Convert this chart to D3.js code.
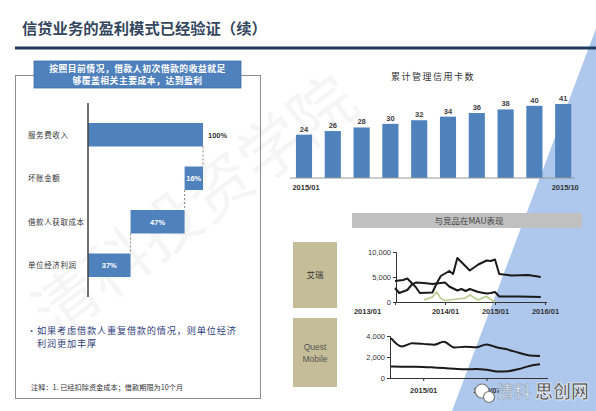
<!DOCTYPE html>
<html>
<head>
<meta charset="utf-8">
<script src="https://cdn.jsdelivr.net/npm/d3@7"></script>
<style>
  body { margin: 0; background: #fff; }
  svg { display: block; font-family: "Noto Sans CJK SC", "Noto Sans", sans-serif; }
</style>
</head>
<body>
<svg class="svg" width="596" height="411"></svg>
<script>
// ---- data ----
const title = '信贷业务的盈利模式已经验证（续）';
const headerLines = ['按照目前情况，借款人初次借款的收益就足', '够覆盖相关主要成本，达到盈利'];
const bulletLines = ['如果考虑借款人重复借款的情况，则单位经济', '利润更加丰厚'];
const footnote = '注释：1. 已经扣除资金成本；借款期限为10个月';

const steps = ['服务费收入', '坏账金额', '借款人获取成本', '单位经济利润'];
const stepValues = [100, -16, -47, 37];
const stepTotals = [true, false, false, true];

const cardTitle = '累计管理信用卡数';
const cardMonths = ['2015/01', '2015/02', '2015/03', '2015/04', '2015/05', '2015/06', '2015/07', '2015/08', '2015/09', '2015/10'];
const cardCounts = [24, 26, 28, 30, 32, 34, 36, 38, 40, 41];
const cardTicks = ['2015/01', '2015/10'];

const mauTitle = '与竞品在MAU表现';
const sources = ['艾瑞', 'Quest\nMobile'];

const iresearchA = [['2013/01', 4200], ['2013/03', 4400], ['2013/04', 4700], ['2013/06', 3000], ['2013/07', 1800],
  ['2013/10', 1900], ['2013/11', 3700], ['2013/12', 5200], ['2014/02', 6200], ['2014/03', 5600], ['2014/04', 8800],
  ['2014/07', 6300], ['2014/09', 7500], ['2014/11', 8300], ['2014/12', 8200], ['2015/01', 8500], ['2015/02', 5600],
  ['2015/05', 5300], ['2015/09', 5400], ['2015/12', 5000]];
const iresearchB = [['2013/01', 2800], ['2013/02', 1800], ['2013/04', 2400], ['2013/05', 3400], ['2013/06', 3900],
  ['2013/08', 3800], ['2013/10', 3600], ['2013/12', 3800], ['2014/01', 3900], ['2014/02', 3100], ['2014/04', 2300],
  ['2014/05', 2600], ['2014/06', 2200], ['2014/07', 2600], ['2014/09', 2000], ['2014/11', 1700], ['2014/12', 1800],
  ['2015/01', 2000], ['2015/02', 1100], ['2015/07', 1100], ['2015/12', 1000]];
const iresearchC = [['2013/08', 400], ['2013/10', 1000], ['2013/11', 2000], ['2013/12', 700], ['2014/01', 300],
  ['2014/03', 500], ['2014/05', 700], ['2014/06', 800], ['2014/07', 1400], ['2014/08', 900], ['2014/09', 400],
  ['2014/10', 800], ['2014/11', 1100], ['2014/12', 500], ['2015/01', 0]];
const iresearchTicks = ['2013/01', '2014/01', '2015/01', '2016/01'];

const questMonths = ['2014/10', '2014/11', '2014/12', '2015/01', '2015/02', '2015/03', '2015/04', '2015/05',
  '2015/06', '2015/07', '2015/08', '2015/09', '2015/10', '2015/11', '2015/12'];
const questA = [3800, 3000, 3300, 3250, 3170, 3450, 2900, 2980, 2920, 3200, 2900, 2700, 2400, 2150, 2100];
const questB = [1100, 1080, 1070, 1050, 1000, 950, 880, 830, 850, 780, 620, 650, 850, 1150, 1300];
const questTicks = ['2015/01', '2015/07'];

// ---- drawing ----
const parse = d3.timeParse('%Y/%m');
const fmtMonth = d3.timeFormat('%Y/%m');
const blue = '#4f81bd';
const svg = d3.select('.svg');

// light blue corner
svg.append('polygon')
  .attr('points', '600,18 452,411 596,411')
  .attr('fill', '#adc8ec');

// faint watermark
svg.append('text')
  .attr('transform', 'translate(55,340) rotate(-37)')
  .attr('font-size', 64)
  .attr('fill', '#000')
  .attr('opacity', 0.035)
  .text('清科投资学院');

// title + rule
svg.append('text')
  .attr('x', 22).attr('y', 34)
  .attr('font-size', 15.3).attr('font-weight', 'bold')
  .attr('fill', '#34475e')
  .text(title);
svg.append('line')
  .attr('x1', 15).attr('x2', 596).attr('y1', 48).attr('y2', 48)
  .attr('stroke', '#1f3a5f').attr('stroke-width', 3);

// left panel
svg.append('rect')
  .attr('x', 15.5).attr('y', 75.5).attr('width', 245).attr('height', 323)
  .attr('fill', 'none').attr('stroke', '#8c8c8c');
svg.append('rect')
  .attr('x', 34).attr('y', 61).attr('width', 207).attr('height', 27)
  .attr('fill', blue).attr('stroke', '#3f6fa8').attr('stroke-width', 0.8);
svg.append('g').selectAll('text')
  .data(headerLines)
  .join('text')
  .attr('x', 137.5).attr('y', (d, i) => 72 + i * 12)
  .attr('text-anchor', 'middle')
  .attr('font-size', 8.8).attr('font-weight', 'bold')
  .attr('letter-spacing', 0.5)
  .attr('fill', '#fff')
  .text(d => d);

// waterfall
const wx = d3.scaleLinear().domain([0, 100]).range([88, 203]);
const wy = d3.scaleBand().domain(steps).range([103, 297]).padding(0.46);

let running = 0;
const wf = steps.map((s, i) => {
  const v = stepValues[i];
  let lo, hi;
  if (stepTotals[i]) { lo = 0; hi = v; running = v; }
  else { hi = running; lo = running + v; running = lo; }
  return { step: s, lo, hi, value: Math.abs(v), total: stepTotals[i] };
});

const wg = svg.append('g');
wg.selectAll('line.conn')
  .data(wf.slice(0, -1))
  .join('line')
  .attr('class', 'conn')
  .attr('x1', (d, i) => wx(wf[i + 1].hi))
  .attr('x2', (d, i) => wx(wf[i + 1].hi))
  .attr('y1', d => wy(d.step) + wy.bandwidth())
  .attr('y2', (d, i) => wy(wf[i + 1].step))
  .attr('stroke', '#888').attr('stroke-dasharray', '2,2');

wg.selectAll('rect')
  .data(wf)
  .join('rect')
  .attr('x', d => wx(d.lo))
  .attr('y', d => wy(d.step))
  .attr('width', d => wx(d.hi) - wx(d.lo))
  .attr('height', wy.bandwidth())
  .attr('fill', blue);

wg.selectAll('text.val')
  .data(wf)
  .join('text')
  .attr('class', 'val')
  .attr('x', (d, i) => i === 0 ? wx(d.hi) + 5 : (wx(d.lo) + wx(d.hi)) / 2)
  .attr('y', d => wy(d.step) + wy.bandwidth() / 2 + 3)
  .attr('text-anchor', (d, i) => i === 0 ? 'start' : 'middle')
  .attr('font-family', 'Arial, "Liberation Sans", sans-serif')
  .attr('font-size', 7.5).attr('font-weight', 'bold')
  .attr('fill', (d, i) => i === 0 ? '#333' : '#fff')
  .text(d => d.value + '%');

wg.selectAll('text.cat')
  .data(steps)
  .join('text')
  .attr('class', 'cat')
  .attr('x', 28)
  .attr('y', d => wy(d) + wy.bandwidth() / 2 + 3)
  .attr('font-size', 7.5)
  .attr('letter-spacing', 0.6)
  .attr('fill', '#333')
  .text(d => d);

wg.append('line')
  .attr('x1', 88).attr('x2', 88).attr('y1', 103).attr('y2', 297)
  .attr('stroke', '#444').attr('stroke-width', 1.5);

// bullet + note
svg.append('text')
  .attr('x', 27).attr('y', 334)
  .attr('font-size', 9).attr('fill', '#666')
  .text('•');
svg.append('g').selectAll('text')
  .data(bulletLines)
  .join('text')
  .attr('x', 37).attr('y', (d, i) => 334 + i * 13)
  .attr('font-size', 9.2)
  .attr('letter-spacing', 0.8)
  .attr('fill', '#2f3e7a')
  .text(d => d);
svg.append('text')
  .attr('x', 31).attr('y', 390)
  .attr('font-size', 7.2)
  .attr('fill', '#333')
  .text(footnote);

// card bar chart
const cx = d3.scaleBand().domain(cardMonths).range([289.6, 577.6]).paddingInner(0.44).paddingOuter(0.22);
const cy = d3.scaleLinear().domain([0, 41]).range([178, 104]);

svg.append('text')
  .attr('x', 433).attr('y', 80)
  .attr('text-anchor', 'middle')
  .attr('font-size', 9).attr('letter-spacing', 1.5)
  .attr('fill', '#333')
  .text(cardTitle);

const cg = svg.append('g');
cg.selectAll('rect')
  .data(cardCounts)
  .join('rect')
  .attr('x', (d, i) => cx(cardMonths[i]))
  .attr('y', d => cy(d))
  .attr('width', cx.bandwidth())
  .attr('height', d => cy(0) - cy(d))
  .attr('fill', blue);
cg.selectAll('text')
  .data(cardCounts)
  .join('text')
  .attr('x', (d, i) => cx(cardMonths[i]) + cx.bandwidth() / 2)
  .attr('y', d => cy(d) - 3)
  .attr('text-anchor', 'middle')
  .attr('font-family', 'Arial, "Liberation Sans", sans-serif')
  .attr('font-size', 7.5).attr('font-weight', 'bold')
  .attr('fill', '#404040')
  .text(d => d);
cg.append('line')
  .attr('x1', 290).attr('x2', 575).attr('y1', cy(0)).attr('y2', cy(0))
  .attr('stroke', '#999');
cg.selectAll('text.tick')
  .data(cardTicks)
  .join('text')
  .attr('class', 'tick')
  .attr('x', d => cx(d) + cx.bandwidth() / 2 + 2)
  .attr('y', 190)
  .attr('text-anchor', 'middle')
  .attr('font-family', 'Arial, "Liberation Sans", sans-serif')
  .attr('font-size', 7.5).attr('font-weight', 'bold')
  .attr('fill', '#333')
  .text(d => d);

// MAU panel
svg.append('rect')
  .attr('x', 352).attr('y', 213).attr('width', 230).attr('height', 15)
  .attr('fill', '#c0c0c0');
svg.append('text')
  .attr('x', 469).attr('y', 224)
  .attr('text-anchor', 'middle')
  .attr('font-size', 8.5).attr('fill', '#444')
  .text(mauTitle);

const boxes = [{ y: 242, h: 66 }, { y: 318, h: 69 }];
const sg = svg.append('g');
sources.forEach((s, i) => {
  sg.append('rect')
    .attr('x', 293).attr('y', boxes[i].y).attr('width', 44).attr('height', boxes[i].h)
    .attr('fill', '#c5bd98');
  const lines = s.split('\n');
  sg.append('text')
    .attr('x', 315)
    .attr('y', boxes[i].y + boxes[i].h / 2 + 3 - (lines.length - 1) * 6)
    .attr('text-anchor', 'middle')
    .attr('font-family', i === 0 ? null : 'Arial, "Liberation Sans", sans-serif')
    .attr('font-size', 8.5)
    .attr('fill', i === 0 ? '#333' : '#555')
    .selectAll('tspan')
    .data(lines)
    .join('tspan')
    .attr('x', 315)
    .attr('dy', (d, j) => j === 0 ? 0 : 12)
    .text(d => d);
});

function styleAxis(g, bold) {
  g.select('.domain').attr('stroke', '#333');
  g.selectAll('.tick line').attr('stroke', '#333');
  g.selectAll('.tick text')
    .attr('font-family', 'Arial, "Liberation Sans", sans-serif')
    .attr('font-size', 7.5)
    .attr('font-weight', bold ? 'bold' : null)
    .attr('fill', '#333');
}

// iResearch line chart
const ix = d3.scaleTime().domain([parse('2013/01'), parse('2016/01')]).range([395, 545]);
const iy = d3.scaleLinear().domain([0, 10000]).range([302, 252]);

const iAxisY = svg.append('g')
  .attr('transform', 'translate(396,0)')
  .call(d3.axisLeft(iy).tickValues([0, 5000, 10000]).tickFormat(d3.format(',')).tickSize(3).tickPadding(2));
styleAxis(iAxisY, false);
const iAxisX = svg.append('g')
  .attr('transform', 'translate(0,302)')
  .call(d3.axisBottom(ix).tickValues(iresearchTicks.map(parse)).tickFormat(fmtMonth).tickSize(3).tickPadding(4));
iAxisX.select('.domain').attr('d', 'M396,0.5H547');
styleAxis(iAxisX, true);
iAxisX.selectAll('.tick text').attr('dx', (d, i) => i === 0 ? -28 : 0);

const iLine = d3.line().x(d => ix(parse(d[0]))).y(d => iy(d[1]));
svg.append('path').datum(iresearchC).attr('d', iLine)
  .attr('fill', 'none').attr('stroke', '#b8cc8e').attr('stroke-width', 1.6);
[iresearchB, iresearchA].forEach(s => {
  svg.append('path').datum(s).attr('d', iLine)
    .attr('fill', 'none').attr('stroke', '#1a1a1a').attr('stroke-width', 2)
    .attr('stroke-linejoin', 'round');
});

// QuestMobile line chart
const qx = d3.scaleTime().domain([parse('2014/10'), parse('2015/12')]).range([391, 540]);
const qy = d3.scaleLinear().domain([0, 4000]).range([378, 336]);

const qAxisY = svg.append('g')
  .attr('transform', 'translate(390,0)')
  .call(d3.axisLeft(qy).tickValues([0, 2000, 4000]).tickFormat(d3.format(',')).tickSize(3).tickPadding(2));
styleAxis(qAxisY, false);
const qAxisX = svg.append('g')
  .attr('transform', 'translate(0,378)')
  .call(d3.axisBottom(qx).tickValues(questTicks.map(parse)).tickFormat(fmtMonth).tickSize(3).tickPadding(7));
qAxisX.select('.domain').attr('d', 'M390,0.5H548');
styleAxis(qAxisX, true);

const qLine = d3.line().x((d, i) => qx(parse(questMonths[i]))).y(d => qy(d)).curve(d3.curveMonotoneX);
[questA, questB].forEach(s => {
  svg.append('path').datum(s).attr('d', qLine)
    .attr('fill', 'none').attr('stroke', '#1a1a1a').attr('stroke-width', 2);
});

// corner logo
const logo = svg.append('g');
logo.append('circle').attr('cx', 482).attr('cy', 391).attr('r', 7)
  .attr('fill', '#fff').attr('stroke', '#777').attr('stroke-width', 1.2);
logo.append('circle').attr('cx', 489).attr('cy', 397).attr('r', 5.5)
  .attr('fill', '#fff').attr('stroke', '#777').attr('stroke-width', 1.2);
logo.append('text')
  .attr('x', 497).attr('y', 398)
  .attr('font-size', 17)
  .attr('fill', '#fff').attr('stroke', '#8fa3b8').attr('stroke-width', 0.6)
  .text('清科');
logo.append('text')
  .attr('x', 535).attr('y', 398)
  .attr('font-size', 18).attr('font-weight', 'bold')
  .attr('fill', '#4d4d4d').attr('stroke', '#fff').attr('stroke-width', 0.6)
  .text('思创网');
</script>
</body>
</html>
